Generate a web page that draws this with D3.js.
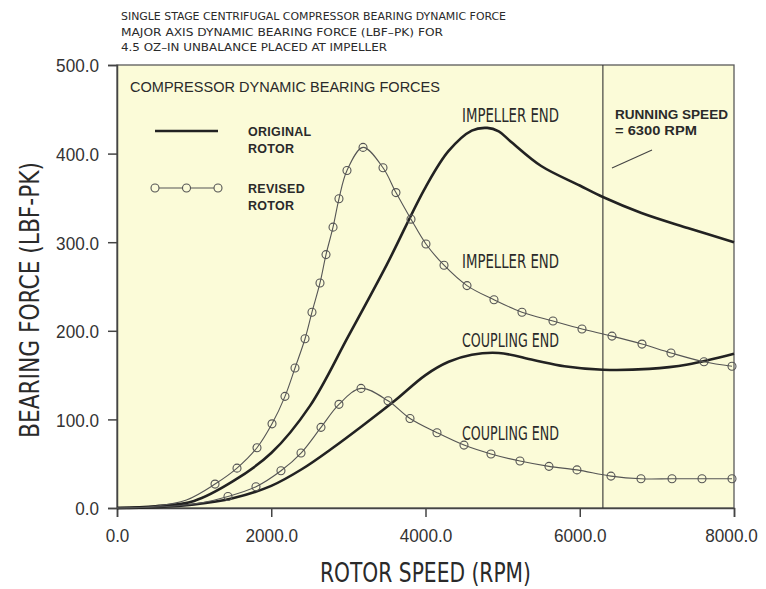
<!DOCTYPE html>
<html>
<head>
<meta charset="utf-8">
<script src="https://cdn.jsdelivr.net/npm/d3@7"></script>
<style>
  html, body { margin: 0; padding: 0; background: #ffffff; }
  svg { display: block; }
  .cad { font-family: "DejaVu Sans", "Liberation Sans", sans-serif; font-stretch: condensed; fill: #2a2a2a; }
  .hel { font-family: "Liberation Sans", Arial, sans-serif; fill: #2a2a2a; }
</style>
</head>
<body>
<svg id="chart" width="766" height="589"></svg>
<script>
// ---------- data (RPM, LBF-PK) ----------
const titleLines = [
  "SINGLE STAGE CENTRIFUGAL COMPRESSOR BEARING DYNAMIC FORCE",
  "MAJOR AXIS DYNAMIC BEARING FORCE (LBF\u2013PK) FOR",
  "4.5 OZ\u2013IN UNBALANCE PLACED AT IMPELLER"
];
const xTicks = [0, 2000, 4000, 6000, 8000];
const yTicks = [0, 100, 200, 300, 400, 500];
const runningSpeed = 6300;

const originalImpeller = [
  [0,0],[500,2],[1000,8],[1500,30],[2000,62],[2500,115],[3000,194],[3500,275],
  [4000,362],[4300,403],[4600,426],[4800,429],[4950,425],[5100,414],[5500,386],
  [6000,364],[6300,351],[6800,333],[7400,316],[8000,300]
];
const originalCoupling = [
  [0,0],[500,1],[1000,4],[1500,11],[2000,25],[2400,44],[2800,68],[3200,94],
  [3600,121],[4000,150],[4300,165],[4600,173],[4950,175],[5400,167],[5800,160],
  [6300,156],[6900,157],[7400,162],[8000,174]
];
// leading parts of the revised curves (line only, no markers)
const revisedImpellerLead = [[0,0],[500,2],[900,9]];
const revisedImpeller = [
  [1271,27],[1556,45],[1815,68],[2010,95],[2178,126],[2308,158],[2438,191],
  [2528,221],[2632,254],[2710,286],[2801,317],[2878,349],[2982,381],[3190,407],
  [3449,384],[3617,356],[3812,326],[4006,298],[4240,274],[4538,251],[4888,235],
  [5251,221],[5653,211],[6029,202],[6418,194],[6807,185],[7183,175],[7611,165],
  [7974,160]
];
const revisedCouplingLead = [[0,0],[700,2],[1100,6]];
const revisedCoupling = [
  [1439,13],[1802,24],[2126,42],[2386,62],[2645,91],[2878,117],[3164,135],
  [3514,121],[3799,101],[4149,85],[4499,71],[4849,61],[5225,53],[5601,47],
  [5964,43],[6405,36],[6794,33],[7196,33],[7585,33],[7974,33]
];

// ---------- layout ----------
const svg = d3.select("#chart");
const plot = { left: 117, right: 734, top: 65, bottom: 508 };
const x = d3.scaleLinear().domain([0, 8000]).range([plot.left, plot.right]);
const y = d3.scaleLinear().domain([0, 500]).range([plot.bottom, plot.top]);

// background
svg.append("rect")
  .attr("x", plot.left).attr("y", plot.top)
  .attr("width", plot.right - plot.left).attr("height", plot.bottom - plot.top)
  .attr("fill", "#fbfbd8");

// title lines
const titleLen = [385, 322, 266];
titleLines.forEach((t, i) => {
  svg.append("text").attr("class", "cad")
    .attr("x", 121).attr("y", 20 + i * 15.5)
    .attr("font-size", 11)
    .attr("textLength", titleLen[i]).attr("lengthAdjust", "spacingAndGlyphs")
    .text(t);
});

// frame
svg.append("rect")
  .attr("x", plot.left).attr("y", plot.top)
  .attr("width", plot.right - plot.left).attr("height", plot.bottom - plot.top)
  .attr("fill", "none").attr("stroke", "#5a5a5a").attr("stroke-width", 1.3);

// axes
const fmt = d3.format(".1f");
const yAxis = svg.append("g").attr("transform", `translate(${plot.left},0)`)
  .call(d3.axisLeft(y).tickValues(yTicks).tickFormat(fmt).tickSize(9).tickPadding(9));
const xAxis = svg.append("g").attr("transform", `translate(0,${plot.bottom})`)
  .call(d3.axisBottom(x).tickValues(xTicks).tickFormat(fmt).tickSize(9).tickPadding(12));
[yAxis, xAxis].forEach(g => {
  g.select(".domain").attr("stroke", "#444").attr("stroke-width", 1.5);
  g.selectAll(".tick line").attr("stroke", "#444").attr("stroke-width", 1.5);
  g.selectAll(".tick text")
    .attr("font-family", "\"Liberation Sans\", Arial, sans-serif")
    .attr("font-size", 19).attr("fill", "#333")
    .attr("textLength", function() {
      const s = this.textContent;
      return (s.length - 1) * 9.6 + 4.5;
    })
    .attr("lengthAdjust", "spacingAndGlyphs");
});
yAxis.selectAll(".tick text").attr("dy", "0.36em");
xAxis.selectAll(".tick text").filter(d => d === 8000).attr("dx", -3);

// axis titles
svg.append("text").attr("class", "cad")
  .attr("transform", "translate(39,300) rotate(-90)")
  .attr("text-anchor", "middle").attr("font-size", 27)
  .attr("textLength", 276).attr("lengthAdjust", "spacingAndGlyphs")
  .text("BEARING FORCE (LBF-PK)");
svg.append("text").attr("class", "cad")
  .attr("x", 425.5).attr("y", 582)
  .attr("text-anchor", "middle").attr("font-size", 27)
  .attr("textLength", 211).attr("lengthAdjust", "spacingAndGlyphs")
  .text("ROTOR SPEED (RPM)");

// running speed line
svg.append("line")
  .attr("x1", x(runningSpeed)).attr("x2", x(runningSpeed))
  .attr("y1", plot.top).attr("y2", plot.bottom)
  .attr("stroke", "#333").attr("stroke-width", 1.1);

// curves
const line = d3.line().x(d => x(d[0])).y(d => y(d[1])).curve(d3.curveCatmullRom.alpha(0.5));
[originalImpeller, originalCoupling].forEach(s => {
  svg.append("path").attr("d", line(s))
    .attr("fill", "none").attr("stroke", "#222").attr("stroke-width", 2.6)
    .attr("stroke-linejoin", "round");
});
[[revisedImpellerLead, revisedImpeller], [revisedCouplingLead, revisedCoupling]].forEach(([lead, s]) => {
  svg.append("path").attr("d", line(lead.concat(s)))
    .attr("fill", "none").attr("stroke", "#555").attr("stroke-width", 1.1);
  svg.append("g").selectAll("circle").data(s).join("circle")
    .attr("cx", d => x(d[0])).attr("cy", d => y(d[1])).attr("r", 4)
    .attr("fill", "none").attr("stroke", "#555").attr("stroke-width", 1.1);
});

// inner title
svg.append("text").attr("class", "hel")
  .attr("x", 130).attr("y", 92).attr("font-size", 14.5)
  .attr("textLength", 310).attr("lengthAdjust", "spacingAndGlyphs")
  .text("COMPRESSOR DYNAMIC BEARING FORCES");

// legend
svg.append("line").attr("x1", 155).attr("x2", 218).attr("y1", 131).attr("y2", 131)
  .attr("stroke", "#222").attr("stroke-width", 2.6);
svg.append("line").attr("x1", 155).attr("x2", 218).attr("y1", 188).attr("y2", 188)
  .attr("stroke", "#555").attr("stroke-width", 1.1);
[155, 186.5, 218].forEach(cx => {
  svg.append("circle").attr("cx", cx).attr("cy", 188).attr("r", 4)
    .attr("fill", "#fbfbd8").attr("stroke", "#555").attr("stroke-width", 1.1);
});
const legendText = [["ORIGINAL", 136], ["ROTOR", 153], ["REVISED", 193], ["ROTOR", 210]];
legendText.forEach(([t, yy]) => {
  svg.append("text").attr("class", "hel")
    .attr("x", 248).attr("y", yy).attr("font-size", 12.5).attr("font-weight", "bold")
    .attr("letter-spacing", 0.3)
    .text(t);
});

// curve annotations
const notes = [["IMPELLER END", 122], ["IMPELLER END", 268], ["COUPLING END", 347], ["COUPLING END", 440]];
notes.forEach(([t, yy]) => {
  svg.append("text").attr("class", "cad")
    .attr("x", 462).attr("y", yy).attr("font-size", 19)
    .attr("textLength", 97).attr("lengthAdjust", "spacingAndGlyphs")
    .text(t);
});

// running speed note
svg.append("text").attr("class", "hel")
  .attr("x", 615).attr("y", 119).attr("font-size", 12.5).attr("font-weight", "bold")
  .attr("textLength", 113).attr("lengthAdjust", "spacingAndGlyphs")
  .text("RUNNING SPEED");
svg.append("text").attr("class", "hel")
  .attr("x", 615).attr("y", 135).attr("font-size", 12.5).attr("font-weight", "bold")
  .attr("textLength", 82).attr("lengthAdjust", "spacingAndGlyphs")
  .text("= 6300 RPM");
svg.append("line").attr("x1", 612).attr("y1", 168).attr("x2", 652).attr("y2", 150)
  .attr("stroke", "#444").attr("stroke-width", 1.1);
</script>
</body>
</html>
